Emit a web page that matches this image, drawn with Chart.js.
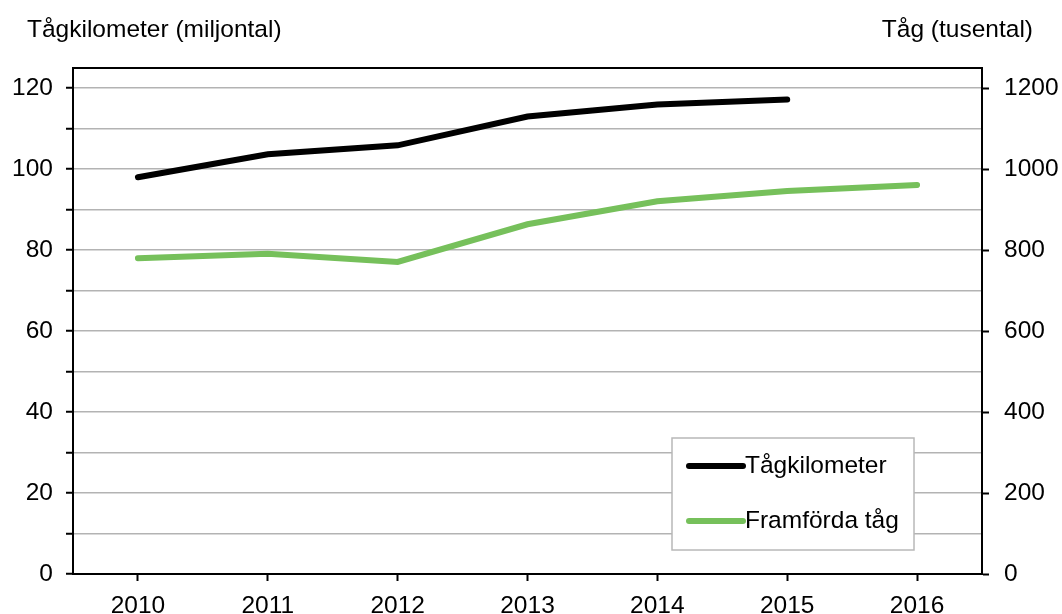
<!DOCTYPE html>
<html>
<head>
<meta charset="utf-8">
<script src="https://cdn.jsdelivr.net/npm/chart.js@4"></script>
<style>
  html, body { margin: 0; padding: 0; background: #fff; }
  #wrap { width: 1062px; height: 614px; }
</style>
</head>
<body>
<div id="wrap"><canvas id="trains"></canvas></div>
<script>
// data
const years = ["2010", "2011", "2012", "2013", "2014", "2015", "2016"];
const tagkilometer = [98.0, 103.7, 105.9, 113.0, 116.0, 117.2, null];   // miljontal
const framfordaTag = [780, 791, 771, 864, 921, 946, 961];              // tusental
const leftTicks = [0, 10, 20, 30, 40, 50, 60, 70, 80, 90, 100, 110, 120, 125];
const rightTicks = [0, 200, 400, 600, 800, 1000, 1200];
const leftTitle = "Tågkilometer (miljontal)";
const rightTitle = "Tåg (tusental)";

const FONT = "'Liberation Sans', Arial, sans-serif";
const FS = 24.5;
const black = "#000000";
const green = "#76C05B";
const gridGray = "#B3B3B3";

// axis titles on top + legend box inside the plot
const extras = {
    id: 'extras',
    afterDraw(chart) {
        const ctx = chart.ctx;
        const area = chart.chartArea;
        ctx.save();
        ctx.fillStyle = '#000';
        ctx.font = FS + 'px ' + FONT;
        ctx.textBaseline = 'middle';
        ctx.textAlign = 'left';
        ctx.fillText(leftTitle, 27, 30);
        ctx.textAlign = 'right';
        ctx.fillText(rightTitle, 1033, 30);

        // legend
        const bx = area.left + 599, by = area.top + 370, bw = 242, bh = 112;
        ctx.fillStyle = '#fff';
        ctx.fillRect(bx, by, bw, bh);
        ctx.strokeStyle = '#B8B8B8';
        ctx.lineWidth = 1.5;
        ctx.strokeRect(bx, by, bw, bh);
        chart.data.datasets.forEach((ds, i) => {
            const y = by + 28 + i * 55;
            ctx.strokeStyle = ds.borderColor;
            ctx.lineWidth = 6;
            ctx.lineCap = 'round';
            ctx.beginPath();
            ctx.moveTo(bx + 17, y);
            ctx.lineTo(bx + 71, y);
            ctx.stroke();
            ctx.fillStyle = '#000';
            ctx.textAlign = 'left';
            ctx.fillText(ds.label, bx + 73, y);
        });
        ctx.restore();
    }
};

new Chart(document.getElementById("trains"), {
    type: 'line',
    data: {
        labels: years,
        datasets: [{
                label: "Tågkilometer",
                data: tagkilometer,
                borderColor: black,
                backgroundColor: black,
                borderWidth: 6,
                borderCapStyle: 'round',
                pointRadius: 0,
                yAxisID: 'y'
            },
            {
                label: "Framförda tåg",
                data: framfordaTag,
                borderColor: green,
                backgroundColor: green,
                borderWidth: 6,
                borderCapStyle: 'round',
                pointRadius: 0,
                yAxisID: 'y2'
            }
        ]
    },
    options: {
        responsive: true,
        maintainAspectRatio: false,
        animation: false,
        layout: {
            padding: { top: 68, left: 0, right: 0, bottom: 0 }
        },
        plugins: {
            legend: { display: false },
            tooltip: { enabled: false }
        },
        scales: {
            x: {
                offset: true,
                grid: {
                    offset: false,
                    drawOnChartArea: false,
                    tickLength: 7,
                    tickWidth: 2,
                    tickColor: black
                },
                border: { color: black, width: 2 },
                ticks: {
                    color: '#000',
                    font: { family: FONT, size: FS },
                    padding: 11,
                    maxRotation: 0
                },
                afterFit(scale) { scale.height = 40; }
            },
            y: {
                position: 'left',
                min: 0,
                max: 125,
                afterBuildTicks(scale) {
                    scale.ticks = leftTicks.map(v => ({ value: v }));
                },
                grid: {
                    color: c => c.tick && c.tick.value === 125 ? black : gridGray,
                    lineWidth: c => c.tick && c.tick.value === 125 ? 2 : 1.5,
                    tickColor: c => c.tick && c.tick.value === 125 ? 'rgba(0,0,0,0)' : black,
                    tickLength: 7,
                    tickWidth: 2
                },
                border: { color: black, width: 2 },
                ticks: {
                    color: '#000',
                    font: { family: FONT, size: FS },
                    padding: 13,
                    callback: v => (v % 20 === 0 ? String(v) : '')
                },
                afterFit(scale) { scale.width = 73; }
            },
            y2: {
                position: 'right',
                min: 0,
                max: 1250,
                afterBuildTicks(scale) {
                    scale.ticks = rightTicks.map(v => ({ value: v }));
                },
                grid: {
                    drawOnChartArea: false,
                    tickColor: black,
                    tickLength: 7,
                    tickWidth: 2
                },
                border: { color: black, width: 2 },
                ticks: {
                    color: '#000',
                    font: { family: FONT, size: FS },
                    padding: 15,
                    callback: v => String(v)
                },
                afterFit(scale) { scale.width = 80; }
            }
        }
    },
    plugins: [extras]
});
</script>
</body>
</html>
